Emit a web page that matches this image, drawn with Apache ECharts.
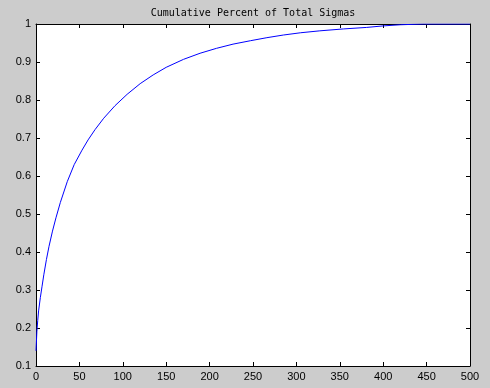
<!DOCTYPE html>
<html>
<head>
<meta charset="utf-8">
<script src="https://cdn.jsdelivr.net/npm/echarts@6/dist/echarts.min.js"></script>
<style>
html,body{margin:0;padding:0;background:#cccccc;}
#c{width:490px;height:388px;}
</style>
</head>
<body>
<div id="c"></div>
<script>
const titleText = 'Cumulative Percent of Total Sigmas';
const xValues = [0, 1, 2, 3, 5, 7, 9, 12, 15, 19, 23, 28, 36, 44, 53, 60, 68, 78, 91, 105, 120, 135, 150, 170, 189, 208, 227, 247, 266, 285, 305, 327, 354, 381, 400, 420, 446, 500];
const yValues = [0.14, 0.19, 0.22, 0.245, 0.28, 0.31, 0.34, 0.38, 0.415, 0.455, 0.49, 0.53, 0.585, 0.630, 0.668, 0.695, 0.722, 0.752, 0.785, 0.815, 0.843, 0.866, 0.886, 0.907, 0.923, 0.936, 0.947, 0.956, 0.964, 0.971, 0.977, 0.982, 0.987, 0.991, 0.995, 0.998, 1.0, 1.0];
const xTicks = [0, 50, 100, 150, 200, 250, 300, 350, 400, 450, 500];
const yTicks = [0.1, 0.2, 0.3, 0.4, 0.5, 0.6, 0.7, 0.8, 0.9, 1];

const chart = echarts.init(document.getElementById('c'), null, {renderer: 'canvas'});
const lineStyle = {color: '#000', width: 1};
const labelFont = {color: '#000', fontFamily: 'Liberation Sans, Arial, sans-serif', fontSize: 11};
const pts = xValues.map((x, i) => [x, yValues[i]]);
chart.setOption({
  backgroundColor: '#cccccc',
  animation: false,
  title: {
    text: titleText,
    left: 253, top: 8, textAlign: 'center', padding: 0,
    textStyle: {fontFamily: 'DejaVu Sans Mono, monospace', fontSize: 10, fontWeight: 'normal', color: '#000'}
  },
  grid: {left: 36, right: 20, top: 24, bottom: 22, show: true, backgroundColor: '#ffffff', borderWidth: 0},
  xAxis: [{
    type: 'value', min: 0, max: 500, interval: 50, position: 'bottom',
    axisLine: {show: true, onZero: false, lineStyle: lineStyle},
    axisTick: {show: true, inside: true, length: 4, lineStyle: lineStyle},
    axisLabel: Object.assign({margin: 5, formatter: v => xTicks.includes(v) ? String(v) : ''}, labelFont),
    splitLine: {show: false}
  }, {
    type: 'value', min: 0, max: 500, interval: 50, position: 'top',
    axisLine: {show: true, onZero: false, lineStyle: lineStyle},
    axisTick: {show: true, inside: true, length: 4, lineStyle: lineStyle},
    axisLabel: {show: false}, splitLine: {show: false}
  }],
  yAxis: [{
    type: 'value', min: 0.1, max: 1, interval: 0.1, position: 'left',
    axisLine: {show: true, onZero: false, lineStyle: lineStyle},
    axisTick: {show: true, inside: true, length: 4, lineStyle: lineStyle},
    axisLabel: Object.assign({margin: 5, formatter: v => {
      const r = Math.round(v * 10) / 10;
      return yTicks.some(t => Math.abs(t - r) < 1e-9) ? String(r) : '';
    }}, labelFont),
    splitLine: {show: false}
  }, {
    type: 'value', min: 0.1, max: 1, interval: 0.1, position: 'right',
    axisLine: {show: true, onZero: false, lineStyle: lineStyle},
    axisTick: {show: true, inside: true, length: 4, lineStyle: lineStyle},
    axisLabel: {show: false}, splitLine: {show: false}
  }],
  series: [{
    type: 'line', data: pts, showSymbol: false, symbol: 'none',
    xAxisIndex: 0, yAxisIndex: 0,
    lineStyle: {color: '#0000ff', width: 1}, smooth: false
  }]
});
</script>
</body>
</html>
